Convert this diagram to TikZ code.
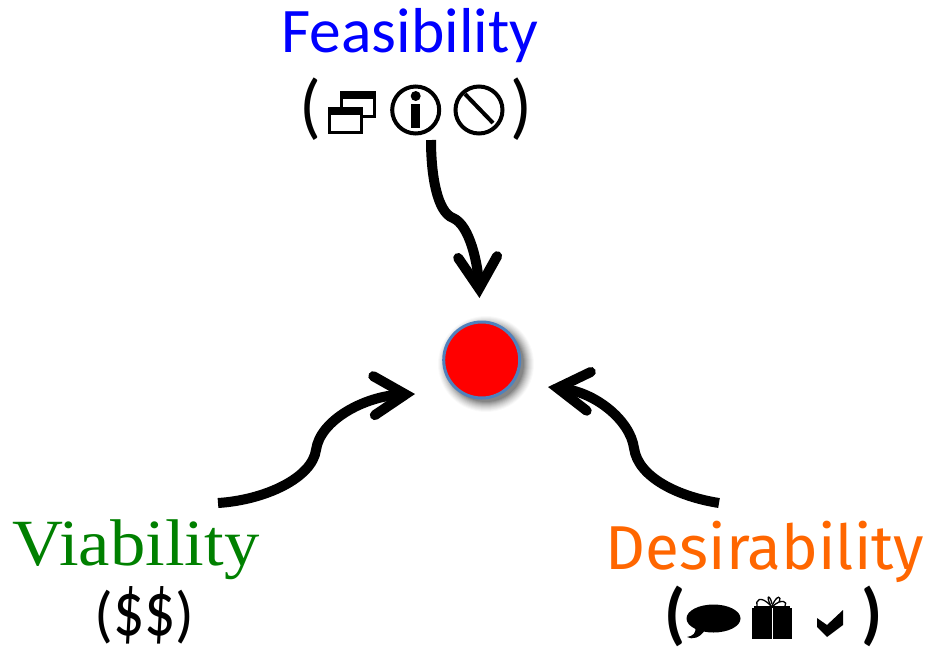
\documentclass[tikz,border=0pt]{standalone}
\usepackage{fontspec}
\usepackage{graphicx}
\setmainfont{Carlito}
\newfontfamily\viafont{Liberation Serif}
\newfontfamily\desfont{Fira Sans}
\usetikzlibrary{arrows.meta}
\definecolor{feascol}{RGB}{0,0,255}
\definecolor{viacol}{RGB}{0,128,0}
\definecolor{descol}{RGB}{255,102,0}
\definecolor{ringcol}{RGB}{79,129,189}
\pgfdeclarearrow{
  name = FlowHead,
  setup code = {
    \pgfarrowssettipend{0pt}
    \pgfarrowssetlineend{-14pt}
    \pgfarrowssetbackend{-46pt}
    \pgfarrowssetvisualbackend{-14pt}
  },
  drawing code = {
    \pgfsetlinewidth{10pt}
    \pgfsetroundcap
    \pgfsetmiterjoin
    \pgfsetmiterlimit{10}
    \pgfsetdash{}{0pt}
    \pgfpathmoveto{\pgfpoint{-41pt}{19.5pt}}
    \pgfpathlineto{\pgfpoint{-9.5pt}{0pt}}
    \pgfpathlineto{\pgfpoint{-41pt}{-19.5pt}}
    \pgfusepathqstroke
  }
}
\tikzset{
  x=1pt,y=-1pt,
  flow/.style={line width=10pt,-{FlowHead}},
  title/.style={inner sep=0pt,anchor=base},
  iconline/.style={draw=black,line width=3pt,fill=white},
  ringline/.style={draw=black,line width=4pt},
}
\begin{document}
\begin{tikzpicture}
\useasboundingbox (0,0) rectangle (928,654);
% shadow
\foreach \r/\o in {48/.025,47/.03,46/.035,45/.04,44/.045,43/.05,42/.06,41/.07,40/.08,39/.09,38/.10}{
  \fill[black,opacity=\o] (486,364) circle[radius=\r];
}
\node[circle,draw=ringcol,line width=3pt,fill=red,minimum size=76pt,inner sep=0pt] (dot) at (481.7,360) {};
% titles
\node[title,text=feascol,font=\fontsize{63.5}{63.5}\selectfont] (feas) at (410,52.5) {Feasibility};
\node[title,text=viacol,font=\fontsize{66}{66}\selectfont\viafont,xscale=1.07] (via) at (136,565) {Viability};
\node[title,text=descol,font=\fontsize{62}{62}\selectfont\desfont] (des) at (765,569) {Desirability};
\node[title,font=\fontsize{62}{62}\selectfont] (vsub) at (144.5,635) {(\scalebox{1}[1.25]{\$\$})};
\node[title,font=\fontsize{72}{72}\selectfont] (fl) at (310.5,130) {(};
\node[title,font=\fontsize{72}{72}\selectfont] (fr) at (521,130) {)};
\node[title,font=\fontsize{68}{68}\selectfont\bfseries] (dl) at (675,636) {(};
\node[title,font=\fontsize{68}{68}\selectfont\bfseries] (dr) at (872.5,636) {)};
% window icon
\draw[iconline] (341,93) rectangle (374.5,116.5);
\fill (339.5,91) rectangle (376,99);
\draw[iconline] (329.5,108.5) rectangle (361.5,132.5);
\fill (328,107) rectangle (363,115);
% info icon
\draw[ringline] (415.7,110) circle[radius=23.5];
\fill (415.7,96) circle[radius=5];
\fill (411,104) rectangle (420,128);
% prohibited icon
\draw[ringline] (479,110) circle[radius=23.5];
\draw[ringline] (465,94) -- (493,123);
% speech bubble
\fill (713.5,618.5) ellipse[x radius=27,y radius=14];
\fill (695,626) .. controls (697,633) and (693,636) .. (687,637) .. controls (692,640) and (700,638) .. (705,630) -- cycle;
% gift
\fill (752,608) rectangle (771.7,639);
\fill (772.7,608) rectangle (792,639);
\draw[line width=1.3pt] (754,607) -- (790,607);
\draw[line width=1.3pt] (771,606) .. controls (760,594) and (755,601) .. (757,606);
\draw[line width=1.3pt] (771,606) .. controls (765,595) and (770,594) .. (772,604);
\draw[line width=1.3pt] (772,606) .. controls (777,594) and (782,596) .. (779,602);
\draw[line width=1.3pt] (773,606) .. controls (782,598) and (788,602) .. (785,606);
% check
\fill (817,618) -- (827,625) -- (843,610) -- (843,625) -- (827,637) -- (817,627) -- cycle;
% connectors
\coordinate (fs) at (431,140);
\coordinate (fe) at (479.5,298);
\coordinate (vs) at (218,503);
\coordinate (ve) at (415,394);
\coordinate (ds) at (719,503);
\coordinate (de) at (548,387);
\draw[flow] (fs) .. controls (431,175) and (437,212) .. (453,218) .. controls (470,225) and (478,265) .. (fe);
\draw[flow] (vs) .. controls (265,500) and (312,478) .. (316,450) .. controls (320,420) and (365,396) .. (ve);
\draw[flow] (ds) .. controls (680,497) and (638,478) .. (634,448) .. controls (630,420) and (595,392) .. (de);
\end{tikzpicture}
\end{document}
